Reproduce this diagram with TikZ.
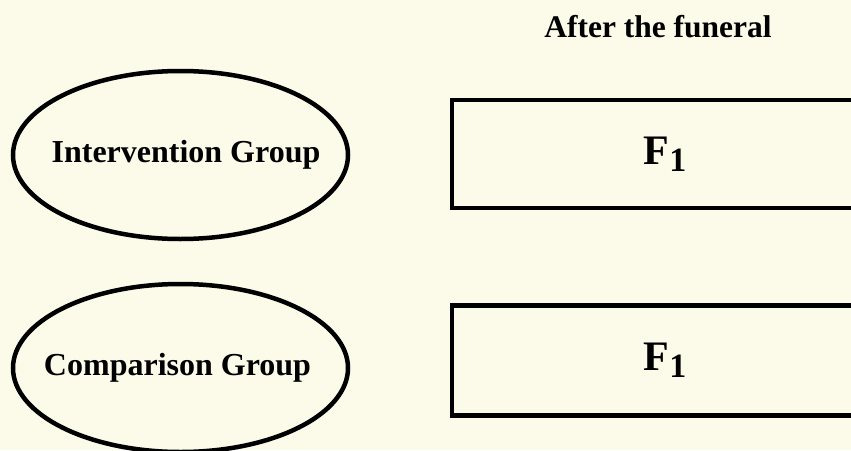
\documentclass[tikz,border=0pt]{standalone}
\usepackage{fontspec}
\setmainfont{Liberation Serif}
\usetikzlibrary{shapes.geometric}
\definecolor{bg}{RGB}{252,250,232}
\tikzset{
  grp/.style={ellipse, draw=black, line width=4.5pt, inner sep=0pt,
    minimum width=335pt, minimum height=168pt,
    font=\fontsize{32}{38}\selectfont\bfseries},
  box/.style={rectangle, draw=black, line width=4.5pt, inner sep=0pt,
    minimum width=426pt, font=\fontsize{42}{48}\selectfont\bfseries},
  head/.style={font=\fontsize{31.5}{38}\selectfont\bfseries, inner sep=0pt}
}
\newcommand{\Fone}{F\raisebox{-7pt}{\fontsize{34}{38}\selectfont 1}}
\begin{document}
\begin{tikzpicture}[x=1pt,y=-1pt]
\fill[bg] (0,0) rectangle (851,450);
\useasboundingbox (0,0) rectangle (851,450);
\clip (0,0) rectangle (851,450);
\node[head, anchor=base] (title) at (658,37) {After the funeral};
\node[grp] (ig) at (180.5,155) {\makebox[0pt]{\hspace{11pt}Intervention Group}};
\node[grp] (cg) at (180.5,368) {\makebox[0pt]{\hspace{-6pt}Comparison Group}};
\node[box, minimum height=108pt] (f1) at (665,154) {\Fone};
\node[box, minimum height=110pt] (f2) at (665,360.5) {\Fone};
\end{tikzpicture}
\end{document}
